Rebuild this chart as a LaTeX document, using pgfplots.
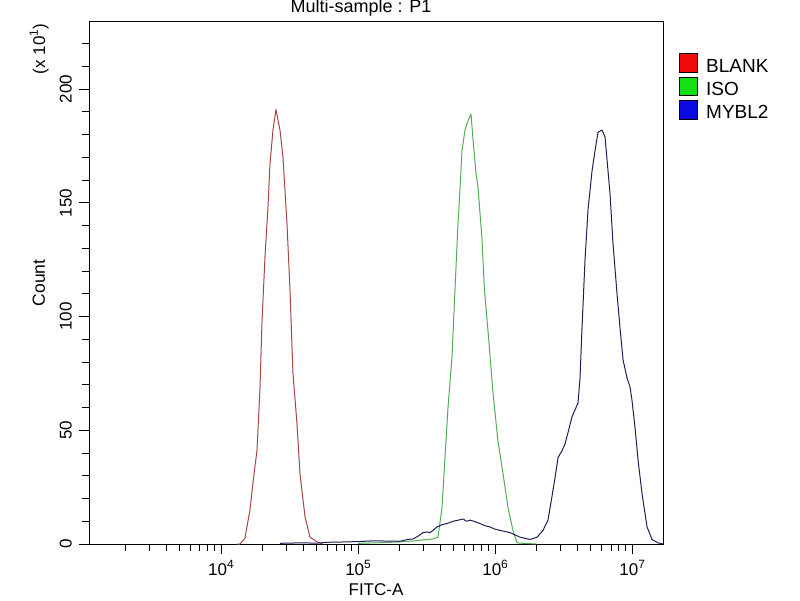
\documentclass[border=0pt]{standalone}
\usepackage{fontspec}
\setmainfont{Liberation Sans}
\usepackage{pgfplots}
\pgfplotsset{compat=1.18}
\definecolor{cblank}{RGB}{165,70,70}
\definecolor{ciso}{RGB}{85,170,90}
\definecolor{cmybl}{RGB}{30,30,85}
\definecolor{lblank}{RGB}{240,10,10}
\definecolor{liso}{RGB}{20,225,20}
\definecolor{lmybl}{RGB}{10,10,225}
\newcommand{\supx}[1]{\raisebox{0.42em}{\fontsize{12}{12}\selectfont #1}}
\begin{document}
\begin{tikzpicture}[x=1pt,y=1pt]
\path[use as bounding box] (0,0) rectangle (800,600);
\begin{axis}[
  at={(89pt,56pt)}, anchor=south west,
  scale only axis, width=574pt, height=522pt,
  xmode=log, xmin=1090, xmax=16777215,
  ymin=0, ymax=229.5,
  xtick={1e4,1e5,1e6,1e7},
  xticklabels={10\supx{4},10\supx{5},10\supx{6},10\supx{7}},
  minor xtick={2000,3000,4000,5000,6000,7000,8000,9000,
    20000,30000,40000,50000,60000,70000,80000,90000,
    200000,300000,400000,500000,600000,700000,800000,900000,
    2000000,3000000,4000000,5000000,6000000,7000000,8000000,9000000},
  ytick={0,50,100,150,200},
  minor ytick={10,20,30,40,60,70,80,90,110,120,130,140,160,170,180,190,210,220},
  tick pos=left, tick align=outside,
  major tick length=10pt, minor tick length=7pt,
  every tick/.style={black, line width=0.9pt},
  axis line style={line width=1pt},
  /pgf/number format/assume math mode=true,
  ticklabel style={font=\fontsize{17}{20}\selectfont},
  yticklabel style={rotate=90, anchor=south, inner sep=0pt},
  yticklabel shift=7pt,
  xticklabel style={inner sep=0pt},
  xticklabel shift=6pt,
  xlabel={FITC-A},
  xlabel style={at={(axis description cs:0.5,-0.0996)}, anchor=base, inner sep=0pt, font=\fontsize{17}{20}\selectfont},
  ylabel={Count},
  ylabel style={at={(axis description cs:-0.0767,0.5)}, anchor=base, inner sep=0pt, font=\fontsize{17.5}{20}\selectfont},
  title={Multi-sample : P1},
  title style={at={(axis description cs:0.474,1.0058)}, anchor=base, inner sep=0pt, font=\fontsize{18}{18}\selectfont},
  every axis plot/.append style={line width=1pt, line join=round},
]
% BLANK
\addplot[cblank] coordinates {
(13000,0) (13760,0) (14970,2.6) (16280,15) (17120,27) (18310,41) (19250,68)
(19910,97) (20940,126) (22020,148) (22780,167) (23950,182) (25190,191)
(26950,182) (28340,170) (30310,141) (31870,112) (33520,75) (35850,53)
(37700,31) (41030,12) (44610,3) (50170,1) (55000,0)
};
% ISO
\addplot[ciso] coordinates {
(100000,0.3) (150000,0.6) (200000,0.9) (250000,1.3) (300000,1.8) (350000,2.2)
(383100,3) (409800,16) (430900,38) (453200,60) (484600,82) (509700,112)
(536100,141) (554400,156) (573400,173) (603000,182) (634000,186) (666800,189)
(689600,178) (725200,163) (750000,157) (802300,134) (835000,112) (895000,91)
(960000,68) (1045000,46) (1141500,31) (1241600,16) (1350400,6) (1444300,0.5)
(1600000,0.3) (2000000,0)
};
% MYBL2
\addplot[cmybl] coordinates {
(27000,0.3) (37700,0.5) (50000,0.4) (62440,0.8) (80000,0.9) (103300,1.1)
(130000,1.4) (160000,1.3) (202300,1.2) (230000,2.0) (251700,2.2) (275000,3.5)
(297800,5) (318400,5.3) (335000,5.0) (352200,6) (376600,7.5) (410000,8.5)
(445600,9) (492800,10) (540000,10.5) (583000,11) (620000,10) (655700,10.5)
(700000,10) (775800,9) (850000,8) (917600,7.5) (1000000,6.5) (1085300,6)
(1284200,5) (1519000,3) (1797000,2) (2021000,3) (2236000,6) (2431000,10.5)
(2600000,21) (2734000,29) (2876000,38) (3076000,41) (3235000,44) (3402000,49)
(3639000,56) (3827000,59) (4024000,62) (4162000,73) (4304000,95) (4527000,125)
(4761000,147) (5092000,164) (5355000,173) (5632000,181) (6024000,182)
(6334000,179) (6551000,169) (6890000,154) (7245000,132) (7750000,110)
(8150000,95) (8572000,81) (9169000,73) (9643000,69) (9972000,63)
(10490000,51) (11030000,37) (11800000,22) (12830000,7.5) (13950000,2)
(15430000,0.5) (16770000,0)
};
\end{axis}
% (x 10^1) multiplier
\node[rotate=90, anchor=base, inner sep=0pt, font=\fontsize{17}{20}\selectfont] at (45,551) {(x 10\supx{1})};
% legend
\begin{scope}[line width=0.8pt]
\filldraw[fill=lblank, draw=black] (679,528) rectangle (697,547);
\filldraw[fill=liso, draw=black] (679,505) rectangle (697,523);
\filldraw[fill=lmybl, draw=black] (679,481) rectangle (697,500);
\end{scope}
\node[anchor=base west, inner sep=0pt, font=\fontsize{19}{20}\selectfont] at (706,527) {BLANK};
\node[anchor=base west, inner sep=0pt, font=\fontsize{19}{20}\selectfont] at (706,504) {ISO};
\node[anchor=base west, inner sep=0pt, font=\fontsize{19}{20}\selectfont] at (706,481) {MYBL2};
\end{tikzpicture}
\end{document}
